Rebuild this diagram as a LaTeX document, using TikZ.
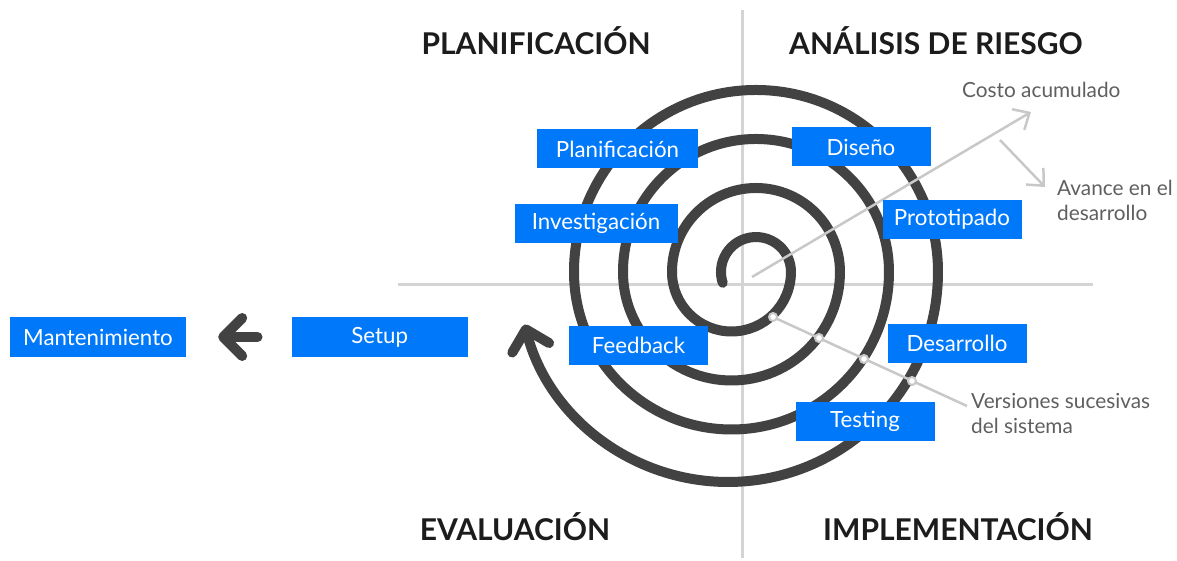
\documentclass[tikz,border=0pt]{standalone}
\usepackage{fontspec}
\setmainfont{Lato}
\usetikzlibrary{arrows.meta}

\definecolor{boxblue}{RGB}{0,120,250}
\definecolor{spiralgray}{RGB}{66,66,66}
\definecolor{guidegray}{RGB}{200,200,200}
\definecolor{axisgray}{RGB}{212,212,212}
\definecolor{notegray}{RGB}{95,95,95}
\definecolor{titleblack}{RGB}{28,28,28}

\begin{document}
\begin{tikzpicture}[x=1pt,y=1pt,yscale=-1,
  phase/.style={fill=boxblue,text=white,minimum width=139pt,minimum height=39pt,inner sep=0pt,font=\fontsize{22.3}{26}\selectfont},
  quadrant/.style={anchor=base,text=titleblack,inner sep=0pt,font=\fontsize{30}{36}\selectfont\bfseries},
  note/.style={anchor=west,align=left,text=notegray,inner sep=0pt,font=\fontsize{20.8}{25}\selectfont},
  guide/.style={draw=guidegray,line width=2.5pt},
  guidearrow/.style={guide,-{Straight Barb[length=13pt,width=24pt]}},
  ring/.style={circle,draw=guidegray,fill=white,line width=2pt,minimum size=8pt,inner sep=0pt},
  bigarrow/.style={draw=spiralgray,line width=10pt,line cap=round,-{Straight Barb[length=19pt,width=38pt,round]}}]
\useasboundingbox (0,0) rectangle (1177,561);

%Straight Lines: quadrant axes
\draw[draw=axisgray,line width=3pt] (742,10) -- (742,558) (398,284) -- (1093,284);

%Shape: Spiral
\draw[bigarrow] (722.7,282.8)
  arc[start angle=162,end angle=360,radius=35]
  arc[start angle=0,end angle=180,radius=59.5]
  arc[start angle=180,end angle=360,radius=84]
  arc[start angle=0,end angle=180,radius=108.5]
  arc[start angle=180,end angle=360,radius=133]
  arc[start angle=0,end angle=180,radius=157.5]
  arc[start angle=180,end angle=360,radius=182]
  arc[start angle=0,end angle=165.5,radius=210];

%Straight Lines: cost and progress
\coordinate (c0) at (752,277);
\coordinate (c1) at (1031,112);
\coordinate (a0) at (1000,140);
\coordinate (a1) at (1045,187);
\draw[guidearrow] (c0) -- (c1);
\draw[guidearrow] (a0) -- (a1);

%Shape: versions of the system
\coordinate (vstart) at (773,317);
\coordinate (vend) at (967,406);
\draw[guide] (vstart) -- (vend);
\node[ring] (v1) at (vstart) {};
\node[ring] (v2) at (819,338) {};
\node[ring] (v3) at (864,359) {};
\node[ring] (v4) at (912,381) {};

% Text Node: phases
\node[phase,minimum width=161pt] (plan) at (617.5,149) {Planificación};
\node[phase,minimum width=163pt] (inv) at (596,223.5) {Investigación};
\node[phase] (feed) at (638.5,345.5) {Feedback};
\node[phase] (dis) at (861,147) {Diseño};
\node[phase] (proto) at (952,219.5) {Prototipado};
\node[phase] (desa) at (957,343.5) {Desarrollo};
\node[phase] (test) at (865,421.5) {Testing};
\node[phase,minimum width=176pt,minimum height=40pt] (setup) at (379.7,337) {Setup};
\node[phase,minimum width=176pt,minimum height=40pt] (mant) at (98,337) {Mantenimiento};
\draw[bigarrow,shorten <=34pt,shorten >=32pt] (setup.west) -- (mant.east);

% Text Node: quadrants
\node[quadrant] (hplan) at (536,55) {PLANIFICACIÓN};
\node[quadrant] (hriesgo) at (936,55) {ANÁLISIS DE RIESGO};
\node[quadrant] (heval) at (515,540) {EVALUACIÓN};
\node[quadrant] (himpl) at (958,540) {IMPLEMENTACIÓN};

% Text Node: notes
\node[note,anchor=base west] (costo) at (962,98) {Costo acumulado};
\node[note] (avance) at (1057,200.5) {Avance en el\\desarrollo};
\node[note] (versiones) at (971,413) {Versiones sucesivas\\del sistema};

\end{tikzpicture}
\end{document}
